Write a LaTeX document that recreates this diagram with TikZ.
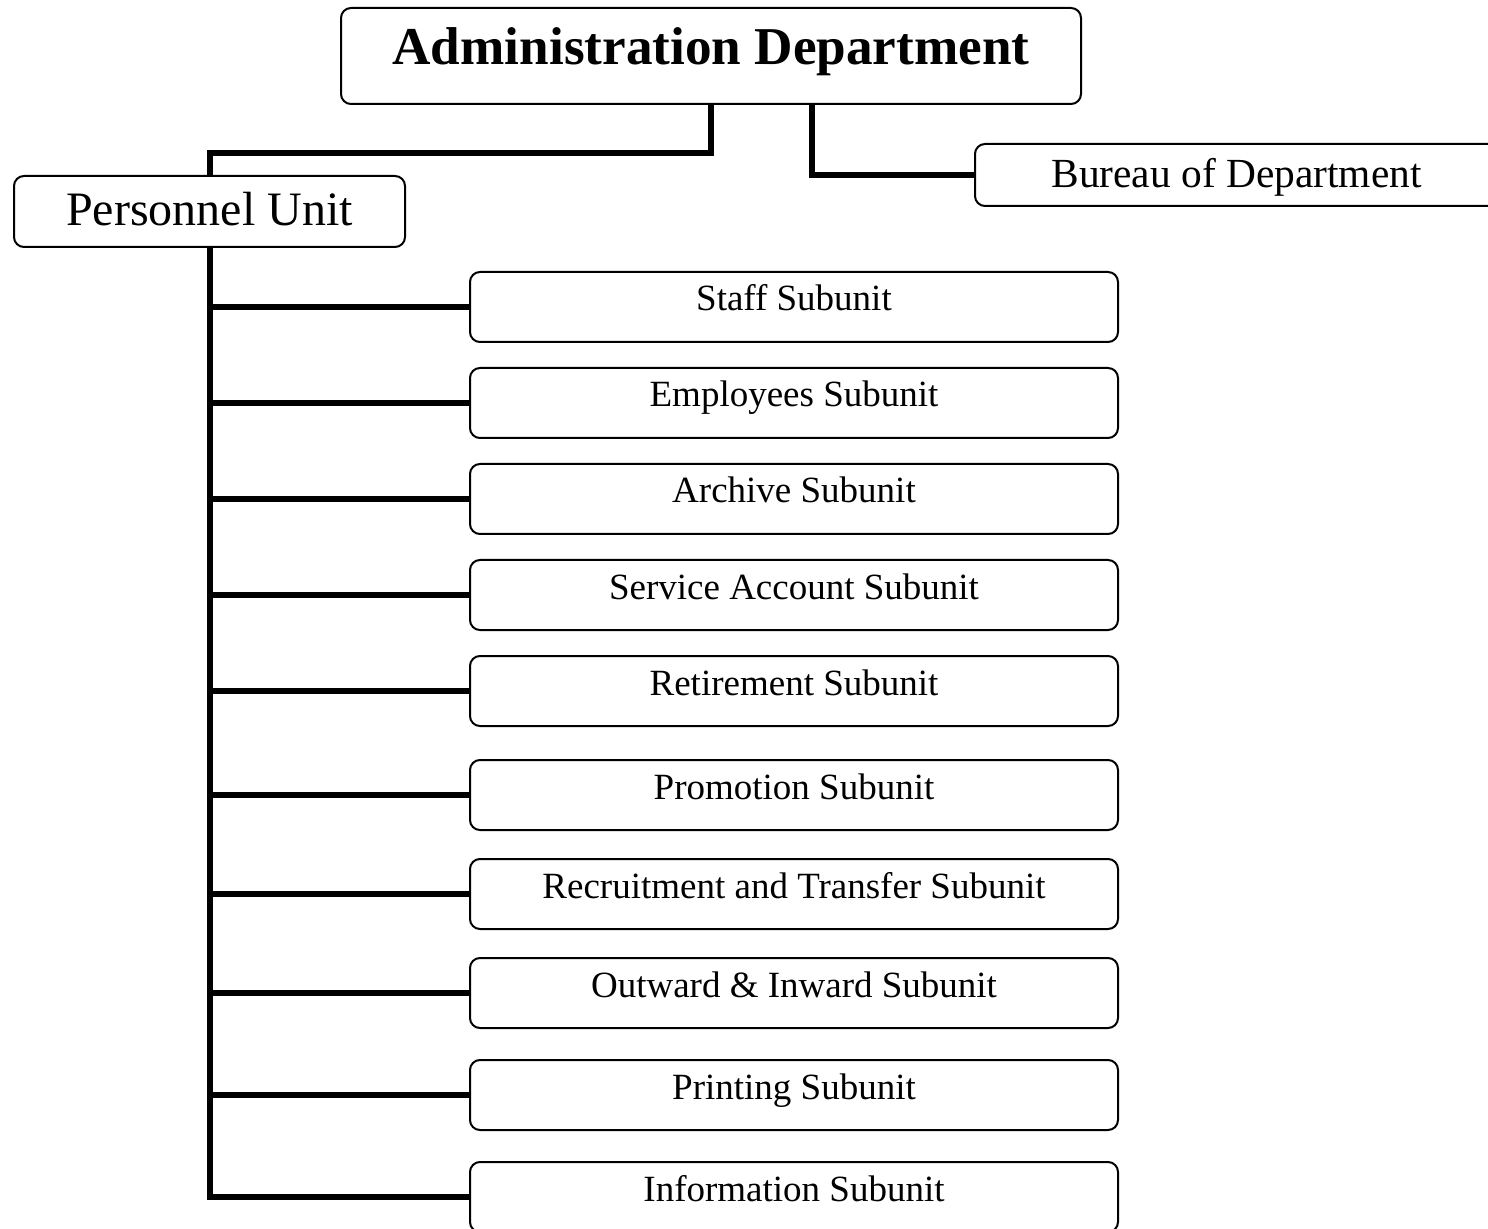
\documentclass[tikz,border=0pt]{standalone}
\usepackage{fontspec}
\setmainfont{Liberation Serif}
\tikzset{
	unitbox/.style={draw, rounded corners=5pt, line width=1pt, inner sep=0pt, fill=white},
	subbox/.style={unitbox, minimum width=324pt, minimum height=35pt, font=\fontsize{18.5}{22}\selectfont, text height=11pt, text depth=7pt},
	link/.style={line width=3pt},
}
\begin{document}
\begin{tikzpicture}[x=0.5pt,y=-0.5pt]
		\useasboundingbox (0,0) rectangle (1488,1229);
		\node[unitbox, minimum width=370pt, minimum height=48pt, font=\fontsize{26.6}{30}\selectfont\bfseries, text height=17pt, text depth=8pt] (admin) at (711,56) {Administration Department};
		\node[unitbox, minimum width=195.5pt, minimum height=35.5pt, font=\fontsize{24}{28}\selectfont, text height=16pt, text depth=1.5pt] (personnel) at (209.5,211.5) {Personnel Unit};
		\node[unitbox, minimum width=261.5pt, minimum height=31pt, font=\fontsize{20.7}{24}\selectfont, text height=15pt, text depth=2pt] (bureau) at (1236.5,175) {Bureau of Department};
		\coordinate (split) at (812,104);
		\draw[link] (admin.south) -- ++(0,48) -| (personnel.north);
		\draw[link] (split) |- (bureau.west);
		% subunits of the personnel unit
		\foreach \y/\nm/\txt in {307/staff/Staff Subunit, 403/employees/Employees Subunit, 499/archive/Archive Subunit, 595/service/Service Account Subunit, 691/retirement/Retirement Subunit, 795/promotion/Promotion Subunit, 894/recruitment/Recruitment and Transfer Subunit, 993/outward/Outward \& Inward Subunit, 1095/printing/Printing Subunit, 1197/info/Information Subunit}
			\node[subbox] (\nm) at (794,\y) {\txt};
		\foreach \nm in {staff,employees,archive,service,retirement,promotion,recruitment,outward,printing}
			\draw[link] (personnel.south |- \nm.west) -- (\nm.west);
		\draw[link] (personnel.south) |- (info.west);
	\end{tikzpicture}
\end{document}
